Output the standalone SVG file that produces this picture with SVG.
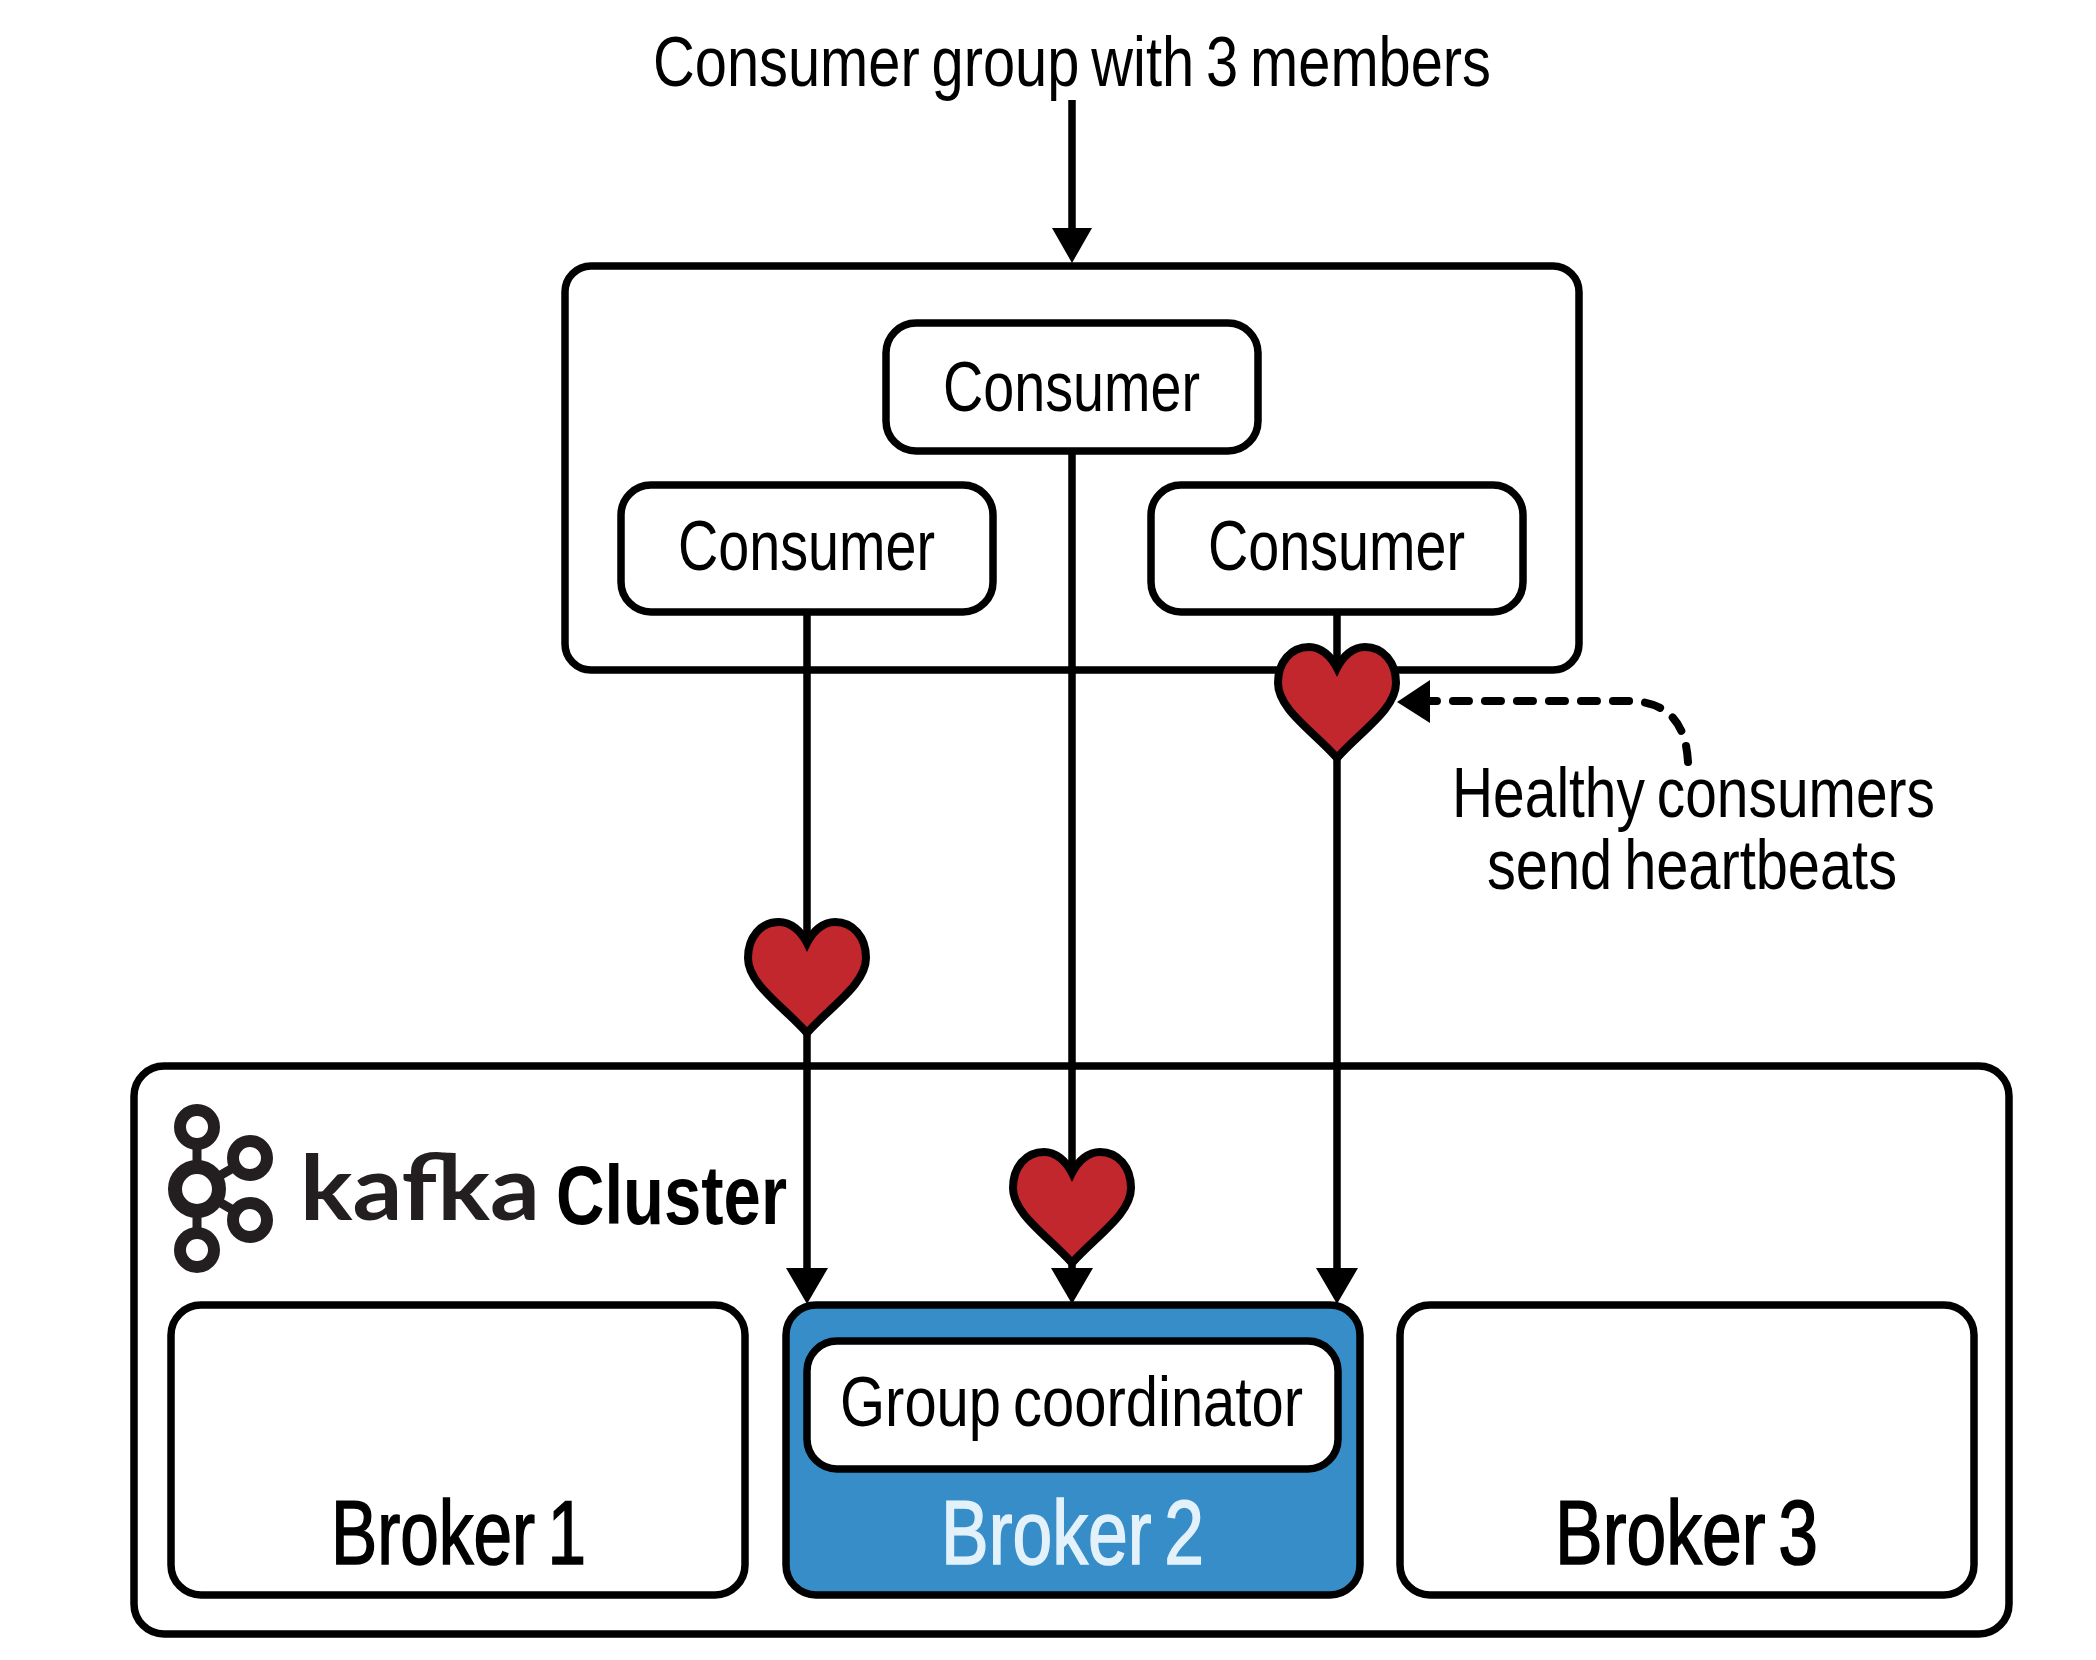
<svg xmlns="http://www.w3.org/2000/svg" width="2096" height="1660" viewBox="0 0 2096 1660">
<style>
.box{fill:#fff;stroke:#000;stroke-width:7.5}
.line{fill:none;stroke:#000;stroke-width:7.5}
.dash{fill:none;stroke:#000;stroke-width:8;stroke-dasharray:16 16;stroke-linecap:round}
.head{fill:#000}
.heart{fill:#c1272d;stroke:#000;stroke-width:8;stroke-linejoin:miter}
text{font-family:"Liberation Sans Narrow","Liberation Sans",Arial,sans-serif;fill:#000}
.t{font-size:70px;word-spacing:-5px}
.b{font-size:90px;word-spacing:-9px;stroke:#000;stroke-width:1.6px}
.logo{fill:none;stroke:#231f20}
</style>
<defs>
<path id="heart" class="heart" d="M0 23C-6 11-16 2-28 2C-46 2-59 17-59 38C-59 64-24 86 0 113C24 86 59 64 59 38C59 17 46 2 28 2C16 2 6 11 0 23Z"/>
</defs>
<rect width="2096" height="1660" fill="#fff"/>
<g id="group-box"><rect class="box" x="565" y="266" width="1014" height="404" rx="26"/></g>
<g id="cluster"><rect class="box" x="134" y="1066" width="1875" height="568" rx="30"/></g>
<g id="connectors">
<path class="line" d="M1072 100V236M807 612V1275M1072 451V1275M1337 612V1275"/>
<path class="head" d="M1052 228H1092L1072 263ZM786 1268H828L807 1304ZM1051 1268H1093L1072 1304ZM1316 1268H1358L1337 1304Z"/>
<path class="dash" d="M1688 762C1686 725 1670 701 1627 701H1425"/>
<path class="head" d="M1430 680V723L1397 702Z"/>
</g>
<g id="consumer-top"><rect class="box" x="886" y="323" width="372" height="128" rx="30"/><text class="t" x="943" y="411" textLength="257" lengthAdjust="spacingAndGlyphs">Consumer</text></g>
<g id="consumer-left"><rect class="box" x="621" y="485" width="372" height="127" rx="30"/><text class="t" x="678" y="570" textLength="257" lengthAdjust="spacingAndGlyphs">Consumer</text></g>
<g id="consumer-right"><rect class="box" x="1151" y="485" width="372" height="127" rx="30"/><text class="t" x="1208" y="570" textLength="257" lengthAdjust="spacingAndGlyphs">Consumer</text></g>
<g id="broker-1"><rect class="box" x="171" y="1305" width="574" height="290" rx="30"/><text class="b" x="331" y="1564" textLength="255" lengthAdjust="spacingAndGlyphs">Broker 1</text></g>
<g id="broker-2"><rect class="box" style="fill:#368dc8" x="786" y="1305" width="574" height="290" rx="30"/><text class="b" style="fill:#e3f1fa;stroke:#e3f1fa" x="941" y="1564" textLength="263" lengthAdjust="spacingAndGlyphs">Broker 2</text></g>
<g id="group-coordinator"><rect class="box" x="807" y="1341" width="531" height="128" rx="30"/><text class="t" x="840" y="1426" textLength="463" lengthAdjust="spacingAndGlyphs">Group coordinator</text></g>
<g id="broker-3"><rect class="box" x="1400" y="1305" width="574" height="290" rx="30"/><text class="b" x="1555" y="1564" textLength="263" lengthAdjust="spacingAndGlyphs">Broker 3</text></g>
<g id="heart-right"><use href="#heart" x="1337" y="645"/></g>
<g id="heart-left"><use href="#heart" x="807" y="920"/></g>
<g id="heart-center"><use href="#heart" x="1072" y="1150"/></g>
<g id="label-title"><text class="t" x="653" y="86" textLength="838" lengthAdjust="spacingAndGlyphs">Consumer group with 3 members</text></g>
<g id="label-healthy"><text class="t" x="1452" y="817" textLength="483" lengthAdjust="spacingAndGlyphs">Healthy consumers</text><text class="t" x="1487" y="889" textLength="410" lengthAdjust="spacingAndGlyphs">send heartbeats</text></g>
<g id="kafka-logo">
<path class="logo" stroke-width="9" d="M197 1127V1250M197 1189L250 1158M197 1189L250 1220"/>
<circle cx="197" cy="1127" r="17" fill="#fff" stroke="#231f20" stroke-width="12"/>
<circle cx="197" cy="1250" r="17" fill="#fff" stroke="#231f20" stroke-width="12"/>
<circle cx="250" cy="1158" r="17" fill="#fff" stroke="#231f20" stroke-width="12"/>
<circle cx="250" cy="1220" r="17" fill="#fff" stroke="#231f20" stroke-width="12"/>
<circle cx="197" cy="1189" r="22" fill="#fff" stroke="#231f20" stroke-width="14"/>
<text style="font-family:Lato,'Liberation Sans',sans-serif;font-weight:700;fill:#231f20" font-size="90" x="300" y="1220" textLength="240" lengthAdjust="spacingAndGlyphs">kafka</text>
<text style="font-weight:700" font-size="84" x="556" y="1224" textLength="231" lengthAdjust="spacingAndGlyphs">Cluster</text>
</g>
</svg>
